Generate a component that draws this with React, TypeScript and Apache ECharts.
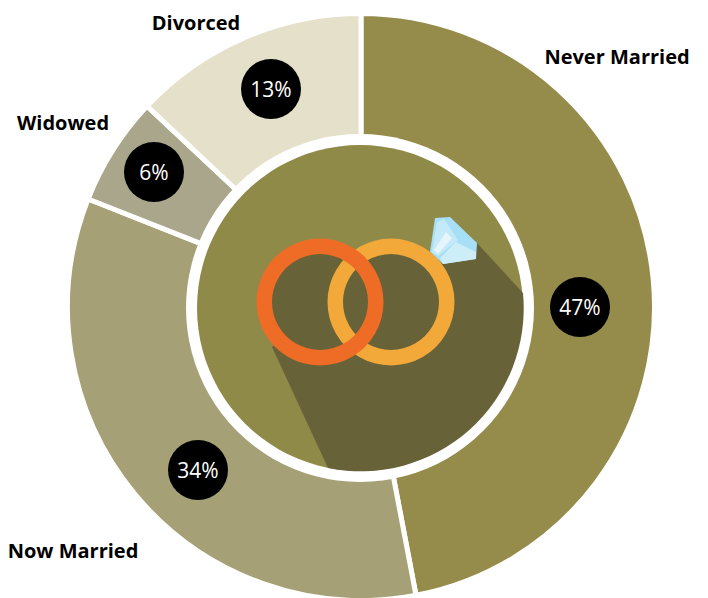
import React, { useEffect, useRef } from "react";
import * as echarts from "echarts";

const categories = ["Never Married", "Now Married", "Widowed", "Divorced"];
const shares = [47, 34, 6, 13];
const sliceColors = ["#958c4c", "#a5a075", "#aaa68b", "#e4e0c9"];

const badgeAnchors = [[580, 307], [198, 470], [154, 172], [271, 89]];
const nameAnchors = [[617, 56], [73, 550], [63, 122], [196, 22]];

const SHADOW = "#686239";

echarts.graphic.registerShape(
  "ringShadow",
  echarts.graphic.extendPath(
    "M 477 243 L 523 293 A 163 163 0 0 1 328 468 L 272 347 L 320 302 L 430 252 Z",
    {}
  )
);

const poly = (points: number[][], fill: string) => ({
  type: "polygon",
  z: 20,
  shape: { points },
  style: { fill },
});

export default function App() {
  const ref = useRef<HTMLDivElement>(null);
  useEffect(() => {
    document.body.style.margin = "0";
    const chart = echarts.init(ref.current!, null, { renderer: "svg" });
    const pieBase = {
      type: "pie",
      center: [361, 307],
      radius: [168, 293.5],
      startAngle: 90,
      clockwise: true,
      silent: true,
      labelLine: { show: false },
    };
    chart.setOption({
      animation: false,
      backgroundColor: "#ffffff",
      series: [
        {
          ...pieBase,
          z: 2,
          data: categories.map((name, i) => ({
            name,
            value: shares[i],
            itemStyle: { color: sliceColors[i], borderColor: "#ffffff", borderWidth: 5 },
          })),
          label: {
            show: true,
            position: "inside",
            formatter: "{c}%",
            color: "#ffffff",
            fontFamily: "Open Sans",
            fontSize: 21,
            backgroundColor: "#000000",
            width: 60,
            height: 60,
            lineHeight: 60,
            borderRadius: 30,
            align: "center",
            verticalAlign: "middle",
          },
          labelLayout: (p: any) => ({
            x: badgeAnchors[p.dataIndex][0],
            y: badgeAnchors[p.dataIndex][1],
            align: "center",
            verticalAlign: "middle",
          }),
        },
        {
          ...pieBase,
          z: 3,
          data: categories.map((name, i) => ({
            name,
            value: shares[i],
            itemStyle: { color: "rgba(0,0,0,0)" },
          })),
          label: {
            show: true,
            position: "outside",
            formatter: "{b}",
            color: "#000000",
            fontFamily: "Open Sans",
            fontWeight: "bold",
            fontSize: 20,
            overflow: "none",
            width: 200,
          },
          labelLayout: (p: any) => ({
            x: nameAnchors[p.dataIndex][0],
            y: nameAnchors[p.dataIndex][1],
            align: "center",
            verticalAlign: "middle",
          }),
        },
      ],
      graphic: [
        { type: "circle", z: 20, shape: { cx: 360, cy: 308, r: 174 }, style: { fill: "#ffffff" } },
        { type: "circle", z: 20, shape: { cx: 360, cy: 308, r: 163 }, style: { fill: "#908a49" } },
        { type: "ringShadow", z: 20, style: { fill: SHADOW } },
        { type: "circle", z: 20, shape: { cx: 320, cy: 302, r: 55 }, style: { fill: SHADOW } },
        { type: "circle", z: 20, shape: { cx: 391, cy: 302, r: 55 }, style: { fill: SHADOW } },
        poly([[435, 218], [450, 217], [477, 243], [476, 259], [443, 264], [430, 252]], "#a6dff6"),
        poly([[437, 222], [444, 219], [458, 240], [438, 256], [432, 252]], "#c4e9f8"),
        poly([[446, 232], [452, 238], [438, 254], [434, 250]], "#e6f5fa"),
        poly([[456, 242], [476, 252], [476, 259], [443, 264], [440, 258]], "#cdedf9"),
        { type: "ring", z: 20, shape: { cx: 391, cy: 302, r: 63.5, r0: 48 }, style: { fill: "#f2a93a" } },
        { type: "ring", z: 20, shape: { cx: 320, cy: 302, r: 63.5, r0: 48 }, style: { fill: "#ee6c25" } },
      ],
    });
    return () => chart.dispose();
  }, []);
  return <div ref={ref} style={{ width: 708, height: 598 }} />;
}
